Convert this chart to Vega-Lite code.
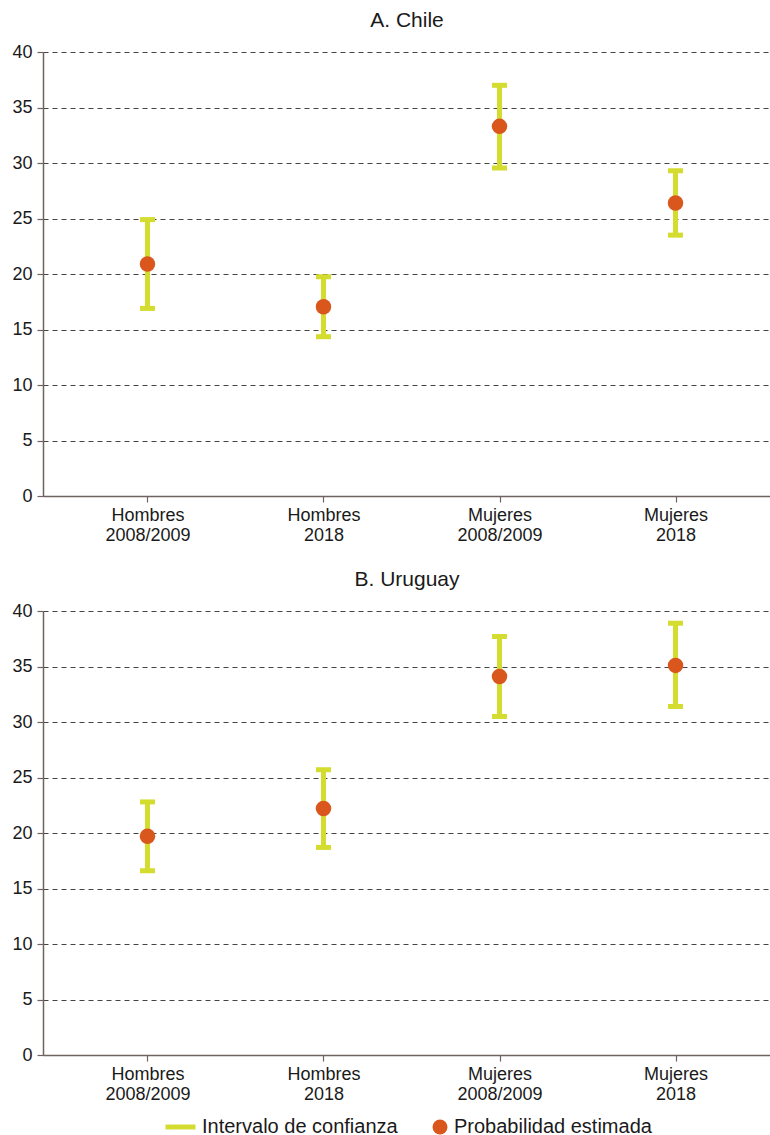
{
  "$schema": "https://vega.github.io/schema/vega-lite/v6.json",
  "background": "white",
  "padding": {"left": 11, "top": 10, "right": 0, "bottom": 0},
  "datasets": {
    "d": [
      {"pais": "Chile", "cat": "Hombres 2008/2009", "est": 20.9, "lo": 16.9, "hi": 24.9},
      {"pais": "Chile", "cat": "Hombres 2018", "est": 17.05, "lo": 14.35, "hi": 19.75},
      {"pais": "Chile", "cat": "Mujeres 2008/2009", "est": 33.3, "lo": 29.55, "hi": 37.0},
      {"pais": "Chile", "cat": "Mujeres 2018", "est": 26.4, "lo": 23.5, "hi": 29.3},
      {"pais": "Uruguay", "cat": "Hombres 2008/2009", "est": 19.7, "lo": 16.6, "hi": 22.8},
      {"pais": "Uruguay", "cat": "Hombres 2018", "est": 22.2, "lo": 18.7, "hi": 25.7},
      {"pais": "Uruguay", "cat": "Mujeres 2008/2009", "est": 34.1, "lo": 30.5, "hi": 37.7},
      {"pais": "Uruguay", "cat": "Mujeres 2018", "est": 35.1, "lo": 31.4, "hi": 38.9}
    ]
  },
  "spacing": 25,
  "vconcat": [
    {
      "title": {"text": "A. Chile"},
      "width": 728,
      "height": 444,
      "data": {"name": "d"},
      "transform": [{"filter": "datum.pais === 'Chile'"}],
      "encoding": {
        "x": {
          "field": "cat", "type": "ordinal",
          "sort": ["Hombres 2008/2009", "Hombres 2018", "Mujeres 2008/2009", "Mujeres 2018"],
          "scale": {"type": "point", "padding": 0.568, "align": 0.5225},
          "axis": {"title": null, "labelExpr": "split(datum.value, ' ')"}
        }
      },
      "layer": [
        {
          "mark": {"type": "rule", "color": "#d4dc2f", "strokeWidth": 5},
          "encoding": {
            "y": {"field": "lo", "type": "quantitative", "scale": {"domain": [0, 40], "nice": false}, "axis": {"title": null}},
            "y2": {"field": "hi"}
          }
        },
        {
          "mark": {"type": "tick", "color": "#d4dc2f", "thickness": 5, "size": 15, "opacity": 1},
          "encoding": {"y": {"field": "lo", "type": "quantitative", "title": null}}
        },
        {
          "mark": {"type": "tick", "color": "#d4dc2f", "thickness": 5, "size": 15, "opacity": 1},
          "encoding": {"y": {"field": "hi", "type": "quantitative", "title": null}}
        },
        {
          "mark": {"type": "point", "filled": true, "opacity": 1, "size": 240},
          "encoding": {
            "y": {"field": "est", "type": "quantitative", "title": null},
            "color": {"datum": "Probabilidad estimada", "scale": {"domain": ["Intervalo de confianza", "Probabilidad estimada"], "range": ["#d4dc2f", "#d9571c"]}},
            "shape": {"datum": "Probabilidad estimada", "scale": {"domain": ["Intervalo de confianza", "Probabilidad estimada"], "range": ["M-3,-0.33H1V0.33H-3Z", "circle"]}}
          }
        }
      ]
    },
    {
      "title": {"text": "B. Uruguay"},
      "width": 728,
      "height": 444,
      "data": {"name": "d"},
      "transform": [{"filter": "datum.pais === 'Uruguay'"}],
      "encoding": {
        "x": {
          "field": "cat", "type": "ordinal",
          "sort": ["Hombres 2008/2009", "Hombres 2018", "Mujeres 2008/2009", "Mujeres 2018"],
          "scale": {"type": "point", "padding": 0.568, "align": 0.5225},
          "axis": {"title": null, "labelExpr": "split(datum.value, ' ')"}
        }
      },
      "layer": [
        {
          "mark": {"type": "rule", "color": "#d4dc2f", "strokeWidth": 5},
          "encoding": {
            "y": {"field": "lo", "type": "quantitative", "scale": {"domain": [0, 40], "nice": false}, "axis": {"title": null}},
            "y2": {"field": "hi"}
          }
        },
        {
          "mark": {"type": "tick", "color": "#d4dc2f", "thickness": 5, "size": 15, "opacity": 1},
          "encoding": {"y": {"field": "lo", "type": "quantitative", "title": null}}
        },
        {
          "mark": {"type": "tick", "color": "#d4dc2f", "thickness": 5, "size": 15, "opacity": 1},
          "encoding": {"y": {"field": "hi", "type": "quantitative", "title": null}}
        },
        {
          "mark": {"type": "point", "filled": true, "opacity": 1, "size": 240},
          "encoding": {
            "y": {"field": "est", "type": "quantitative", "title": null},
            "color": {"datum": "Probabilidad estimada", "scale": {"domain": ["Intervalo de confianza", "Probabilidad estimada"], "range": ["#d4dc2f", "#d9571c"]}},
            "shape": {"datum": "Probabilidad estimada", "scale": {"domain": ["Intervalo de confianza", "Probabilidad estimada"], "range": ["M-3,-0.33H1V0.33H-3Z", "circle"]}}
          }
        }
      ]
    }
  ],
  "config": {
    "view": {"stroke": null},
    "font": "Liberation Sans",
    "title": {"fontSize": 21, "fontWeight": "normal", "color": "#1a1a1a", "offset": 12, "anchor": "middle", "font": "Liberation Sans"},
    "axis": {"labelFont": "Liberation Sans", "labelFontSize": 18, "labelColor": "#1a1a1a", "domainColor": "#6e6360", "tickColor": "#6e6360", "domainWidth": 1.5, "tickWidth": 1.2},
    "axisY": {"grid": true, "gridColor": "#444444", "gridDash": [5, 4], "gridWidth": 1, "tickSize": 6, "labelPadding": 5, "values": [0, 5, 10, 15, 20, 25, 30, 35, 40]},
    "axisX": {"grid": false, "tickSize": 6, "labelAngle": 0, "labelPadding": 4, "labelLineHeight": 20},
    "legend": {
      "orient": "none", "legendX": 135, "legendY": 1065, "direction": "horizontal", "columns": 2,
      "title": null, "labelFont": "Liberation Sans", "labelFontSize": 20, "labelColor": "#1a1a1a", "labelLimit": 0,
      "symbolSize": 225, "labelOffset": 4, "columnPadding": 32, "symbolStrokeWidth": 0
    }
  }
}
